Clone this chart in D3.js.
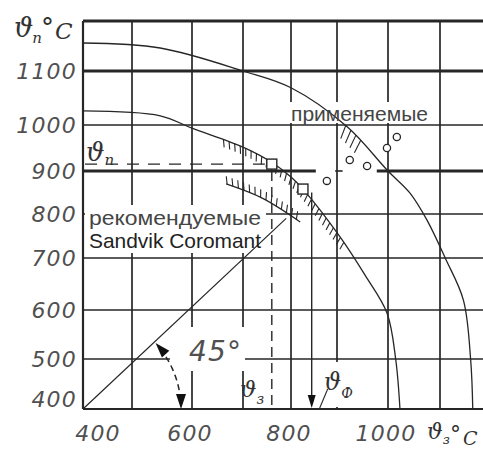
<!DOCTYPE html>
<html>
<head>
<meta charset="utf-8">
<script src="https://cdn.jsdelivr.net/npm/d3@7"></script>
<style>
  html, body { margin: 0; padding: 0; background: #fff; }
  svg { display: block; }
</style>
</head>
<body>
<svg id="chart" width="483" height="449"></svg>
<script>
// ---- data (°C) ----
const xTicks = [400, 500, 600, 700, 800, 900, 1000, 1100];
const yTicks = [400, 500, 600, 700, 800, 900, 1000, 1100, 1200];
const xTickLabels = [400, 600, 800, 1000];
const yTickLabels = [400, 500, 600, 700, 800, 900, 1000, 1100];

// boundary of the recommended zone
const innerArc = [[400, 1026], [547, 1017], [600, 993], [700, 952], [758, 920], [800, 886],
                  [826, 858], [906, 748], [955, 667], [998, 594], [1015, 498], [1023, 400]];
// boundary of the applied zone
const outerArc = [[400, 1156], [547, 1146], [700, 1100], [800, 1069], [920, 996], [1000, 900],
                  [1042, 849], [1075, 786], [1110, 700], [1145, 619], [1159, 498], [1163, 400]];
// lower hatched edge of the recommended zone
const recommendedBand = [[667, 870], [740, 837], [820, 782]];
// equal-temperature line θп = θз
const line45 = [[400, 400], [790, 790]];

// Sandvik Coromant recommended values (squares)
const recommendedPoints = [[760, 915], [826, 858]];
// values used in practice (circles)
const appliedPoints = [[878, 877], [925, 924], [959, 911], [998, 950], [1017, 974]];

// read-out temperatures
const thetaZ = 760, thetaP = 915;      // first recommended point
const thetaF = 845, thetaFTop = 850;   // actual value arrow

// the heavy 900 °C reference line is broken around the point cloud
const line900Segments = [[400, 854], [896, 911], [978, 1190]];

// ---- layout ----
const W = 483, H = 449;
const svg = d3.select("#chart");
const x = d3.scaleLinear().domain(xTicks).range([83, 132, 192, 243, 291, 337, 388, 440]);
const y = d3.scaleLinear().domain(yTicks).range([409, 359, 310, 258, 214, 171, 125, 71, 21]);
const INK = "#262626";
const NUM_FONT = "'DejaVu Sans', sans-serif";
const SYM_FONT = "'DejaVu Serif', serif";
const SANS = "'Liberation Sans', Arial, sans-serif";
const NUM_FILL = "#505050";

const gGrid = svg.append("g");
const gMask = svg.append("g");
const gMarks = svg.append("g");
const gText = svg.append("g");

// ---- grid ----
const yTop = y(1200), yBot = y(400), xLeft = x(400);
gGrid.selectAll("line.v").data(xTicks).join("line")
  .attr("x1", d => x(d)).attr("x2", d => x(d))
  .attr("y1", yTop).attr("y2", yBot)
  .attr("stroke", INK).attr("stroke-width", d => d === 400 ? 2.2 : 1.7);

gGrid.selectAll("line.h").data(yTicks.filter(d => d !== 900)).join("line")
  .attr("x1", xLeft).attr("x2", W)
  .attr("y1", d => y(d)).attr("y2", d => y(d))
  .attr("stroke", INK)
  .attr("stroke-width", d => (d === 1200 || d === 1100) ? 2.8 : (d === 400 ? 2.2 : 1.7));

gGrid.selectAll("line.h900").data(line900Segments).join("line")
  .attr("x1", d => x(d[0])).attr("x2", d => x(d[1]))
  .attr("y1", y(900)).attr("y2", y(900))
  .attr("stroke", INK).attr("stroke-width", (d, i) => i === 1 ? 1.6 : 2.8);

// ---- tick labels ----
function numText(sel) {
  return sel.attr("font-family", NUM_FONT)
    .attr("font-style", "italic").attr("font-size", 22)
    .attr("letter-spacing", 1.2).attr("fill", NUM_FILL);
}
numText(gText.selectAll("text.yl").data(yTickLabels).join("text")
  .attr("x", 77).attr("y", d => y(d) + 8 - (d === 400 ? 10 : 0))
  .attr("text-anchor", "end"))
  .text(d => d);

numText(gText.selectAll("text.xl").data(xTickLabels).join("text")
  .attr("x", (d, i) => x(d) + (i === 0 ? 15 : -2)).attr("y", 441)
  .attr("text-anchor", "middle"))
  .text(d => d);

// symbol with subscript helper
function symbol(g, px, py, size, sub, subSize, subDx, subDy) {
  const t = g.append("text").attr("x", px).attr("y", py)
    .attr("font-family", SYM_FONT).attr("font-style", "italic").attr("fill", "#333");
  t.append("tspan").attr("font-size", size).text("ϑ");
  t.append("tspan").attr("font-size", subSize).attr("dx", subDx).attr("dy", subDy).text(sub);
  return t;
}

// axis titles
symbol(gText, 14, 37, 27, "п", 15, -1, 6);
gText.append("text").attr("x", 41).attr("y", 36).attr("font-family", SYM_FONT)
  .attr("font-size", 26).attr("fill", "#333").text("°");
gText.append("text").attr("x", 55).attr("y", 39).attr("font-family", SYM_FONT)
  .attr("font-style", "italic").attr("font-size", 23).attr("fill", "#333").text("C");

symbol(gText, 427, 439, 22, "з", 13, 0, 5);
gText.append("text").attr("x", 450).attr("y", 442).attr("font-family", SYM_FONT)
  .attr("font-size", 22).attr("fill", "#333").text("°");
gText.append("text").attr("x", 463).attr("y", 445).attr("font-family", SYM_FONT)
  .attr("font-style", "italic").attr("font-size", 19).attr("fill", "#333").text("C");

// ---- zone captions with white backing ----
const SANS_SIZE = 21;
gText.append("text").attr("x", 89).attr("y", 225)
  .attr("font-family", SANS).attr("font-size", SANS_SIZE).attr("fill", "#454545")
  .attr("textLength", 172).attr("lengthAdjust", "spacingAndGlyphs").text("рекомендуемые");
gText.append("text").attr("x", 89).attr("y", 248)
  .attr("font-family", SANS).attr("font-size", SANS_SIZE).attr("fill", "#222")
  .attr("textLength", 172).attr("lengthAdjust", "spacingAndGlyphs").text("Sandvik Coromant");
gMask.append("rect").attr("x", 85).attr("y", 205).attr("width", 181).attr("height", 48).attr("fill", "#fff");

gText.append("text").attr("x", 291).attr("y", 121)
  .attr("font-family", SANS).attr("font-size", SANS_SIZE).attr("fill", "#454545")
  .attr("textLength", 137).attr("lengthAdjust", "spacingAndGlyphs").text("применяемые");
gMask.append("rect").attr("x", 287).attr("y", 102).attr("width", 146).attr("height", 21).attr("fill", "#fff");

// ---- curves ----
const curve = d3.line().x(d => x(d[0])).y(d => y(d[1])).curve(d3.curveCatmullRom.alpha(0.5));
const straight = d3.line().x(d => x(d[0])).y(d => y(d[1]));

const innerPath = gMarks.append("path").attr("d", curve(innerArc))
  .attr("fill", "none").attr("stroke", INK).attr("stroke-width", 1.3);
const outerPath = gMarks.append("path").attr("d", curve(outerArc))
  .attr("fill", "none").attr("stroke", INK).attr("stroke-width", 1.3);
const bandPath = gMarks.append("path").attr("d", curve(recommendedBand))
  .attr("fill", "none").attr("stroke", INK).attr("stroke-width", 1.2);
gMarks.append("path").attr("d", straight(line45))
  .attr("fill", "none").attr("stroke", INK).attr("stroke-width", 1.2);

// short hatch strokes along a curve
function hatchAlong(path, xFrom, xTo, step, len, tilt, side) {
  const node = path.node();
  const total = node.getTotalLength();
  const ticks = [];
  for (let s = 1; s < total - 1; s += step) {
    const p = node.getPointAtLength(s);
    if (p.x < x(xFrom) || p.x > x(xTo)) continue;
    const a1 = node.getPointAtLength(s - 1), a2 = node.getPointAtLength(s + 1);
    let tx = a2.x - a1.x, ty = a2.y - a1.y;
    const tl = Math.hypot(tx, ty); tx /= tl; ty /= tl;
    const nx = ty * side, ny = -tx * side;
    const a = tilt * Math.PI / 180;
    const dx = Math.cos(a) * nx + Math.sin(a) * tx, dy = Math.cos(a) * ny + Math.sin(a) * ty;
    ticks.push([p.x, p.y, p.x + dx * len, p.y + dy * len]);
  }
  gMarks.append("g").selectAll("line").data(ticks).join("line")
    .attr("x1", d => d[0]).attr("y1", d => d[1]).attr("x2", d => d[2]).attr("y2", d => d[3])
    .attr("stroke", INK).attr("stroke-width", 1.1);
}
hatchAlong(innerPath, 660, 915, 6, 8, 25, -1);
hatchAlong(bandPath, 667, 820, 6, 8, -25, 1);
hatchAlong(outerPath, 915, 950, 7, 14, 20, -1);

// ---- read-out lines ----
const dash = gMarks.append("g").attr("stroke", INK).attr("stroke-width", 1.4)
  .attr("stroke-dasharray", "12,9");
dash.append("line").attr("x1", x(400) + 2).attr("x2", x(thetaZ) - 7)
  .attr("y1", y(thetaP)).attr("y2", y(thetaP));
dash.append("line").attr("x1", x(thetaZ)).attr("x2", x(thetaZ))
  .attr("y1", y(thetaP) + 7).attr("y2", y(400) - 1).attr("stroke-dasharray", "10,6");

// θф arrow
const ax = x(thetaF), ayTip = y(400) - 1;
gMarks.append("line").attr("x1", ax).attr("x2", ax).attr("y1", y(thetaFTop)).attr("y2", ayTip - 8)
  .attr("stroke", INK).attr("stroke-width", 1.4);
gMarks.append("path")
  .attr("d", `M${ax - 4},${ayTip - 13}L${ax + 4},${ayTip - 13}L${ax},${ayTip}Z`)
  .attr("fill", "#111");
gMarks.append("line").attr("x1", ax + 16).attr("y1", ayTip - 19).attr("x2", ax + 8).attr("y2", ayTip)
  .attr("stroke", INK).attr("stroke-width", 1.1);

// ---- markers ----
gMarks.selectAll("rect.rec").data(recommendedPoints).join("rect")
  .attr("x", d => x(d[0]) - 5).attr("y", d => y(d[1]) - 5)
  .attr("width", 10).attr("height", 10)
  .attr("fill", "#fff").attr("stroke", INK).attr("stroke-width", 1.4);
gMarks.selectAll("circle.app").data(appliedPoints).join("circle")
  .attr("cx", d => x(d[0])).attr("cy", d => y(d[1])).attr("r", 3.6)
  .attr("fill", "#fff").attr("stroke", INK).attr("stroke-width", 1.3);

// ---- 45° angle mark ----
const cx = x(400), cy = y(400);
const ang = Math.atan2(y(400) - y(600), x(600) - x(400));
const R = 98;
const arcPts = d3.range(0, 41).map(i => {
  const t = ang * (1 - i / 40);
  return [cx + R * Math.cos(t), cy - R * Math.sin(t)];
});
// white backing for the "45°" caption
gMask.append("rect").attr("x", 170).attr("y", 327).attr("width", 75).attr("height", 44).attr("fill", "#fff");
gMarks.append("path").attr("d", d3.line()(arcPts.slice(4, 37)))
  .attr("fill", "none").attr("stroke", INK).attr("stroke-width", 1.5).attr("stroke-dasharray", "6,4");
function arrowHead(t, dir) {
  const px = cx + R * Math.cos(t), py = cy - R * Math.sin(t);
  // tangent in the direction of increasing angle
  let tx = -Math.sin(t) * dir, ty = -Math.cos(t) * dir;
  const L = 15, Wd = 5;
  const bx = px - tx * L, by = py - ty * L;
  const nx = -ty, ny = tx;
  return `M${px},${py}L${bx + nx * Wd},${by + ny * Wd}L${bx - nx * Wd},${by - ny * Wd}Z`;
}
gMarks.append("path").attr("d", arrowHead(ang, 1)).attr("fill", "#111");
gMarks.append("path").attr("d", arrowHead(0, -1)).attr("fill", "#111");

numText(gText.append("text").attr("x", 189).attr("y", 361))
  .attr("font-size", 28).text("45°");

// ---- symbol labels on the chart ----
symbol(gText, 86, 161, 26, "п", 15, 0, 4);
symbol(gText, 240, 397, 23, "з", 14, 0, 7);
gMask.append("rect").attr("x", 322).attr("y", 362).attr("width", 38).attr("height", 45).attr("fill", "#fff");
symbol(gText, 324, 390, 24, "Ф", 14, 0, 8);
</script>
</body>
</html>
